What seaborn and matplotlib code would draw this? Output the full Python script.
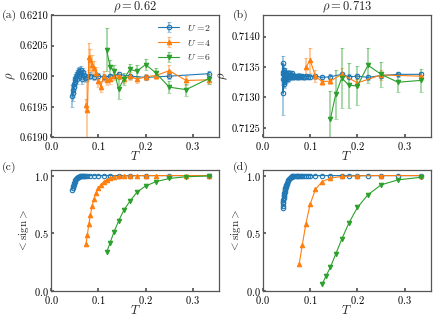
import matplotlib
matplotlib.use("Agg")
import matplotlib.pyplot as plt
import seaborn as sns
import numpy as np
import pandas as pd

# ---- data: rho = 0.62 ----
T_a_u2 = [0.0444, 0.0455, 0.0465, 0.0476, 0.0488, 0.05, 0.0513, 0.0526, 0.0541, 0.0556,
          0.0571, 0.0588, 0.0606, 0.0625, 0.0645, 0.0667, 0.069, 0.0714, 0.0769, 0.0833,
          0.0909, 0.1, 0.1111, 0.125, 0.1429, 0.1667, 0.2, 0.25, 0.3333]
rho_a_u2 = [0.61967, 0.61972, 0.61977, 0.61983, 0.61988, 0.61991, 0.61995, 0.61998, 0.62002, 0.61996,
            0.62005, 0.62008, 0.62003, 0.62010, 0.61995, 0.62007, 0.62002, 0.61997, 0.61998, 0.62001,
            0.61999, 0.62000, 0.61999, 0.62000, 0.62003, 0.62000, 0.61998, 0.62000, 0.62004]
err_a_u2 = [0.00018, 0.00013, 0.00011, 0.0001, 0.0001, 0.00009, 0.00009, 0.00008, 0.00008, 0.00008,
            0.00008, 0.00007, 0.00007, 0.00007, 0.00007, 0.00006, 0.00006, 0.00006, 0.00006, 0.00005,
            0.00005, 0.00005, 0.00005, 0.00004, 0.00004, 0.00004, 0.00004, 0.00004, 0.00004]
sign_c_u2 = [0.878, 0.893, 0.906, 0.921, 0.935, 0.946, 0.958, 0.967, 0.976, 0.983,
             0.988, 0.992, 0.995, 0.997, 0.998, 0.999, 0.999, 1.0, 1.0, 1.0,
             1.0, 1.0, 1.0, 1.0, 1.0, 1.0, 1.0, 1.0, 1.0]

T_a_u4 = [0.0741, 0.0769, 0.08, 0.0833, 0.087, 0.0909, 0.0952, 0.1, 0.1053, 0.1111, 0.1176,
          0.125, 0.1333, 0.1429, 0.1538, 0.1667, 0.1818, 0.2, 0.2222, 0.25, 0.2857, 0.3333]
rho_a_u4 = [0.61953, 0.61944, 0.62032, 0.62027, 0.62019, 0.62013, 0.62005, 0.61992, 0.61983, 0.62000, 0.61993,
            0.61995, 0.62000, 0.62001, 0.61995, 0.62000, 0.61995, 0.61999, 0.62001, 0.62009, 0.61993, 0.61994]
err_a_u4 = [0.0001, 0.0005, 0.00022, 0.00018, 0.00015, 0.00012, 0.0001, 0.0001, 0.00009, 0.00008, 0.00008,
            0.00007, 0.00007, 0.00006, 0.00006, 0.00006, 0.00006, 0.00005, 0.00005, 0.0001, 0.00007, 0.00007]
sign_c_u4 = [0.41, 0.49, 0.58, 0.66, 0.74, 0.80, 0.85, 0.89, 0.92, 0.945, 0.963,
             0.977, 0.987, 0.993, 0.996, 0.998, 0.999, 1.0, 1.0, 1.0, 1.0, 1.0]

T_a_u6 = [0.1176, 0.125, 0.1333, 0.1429, 0.1538, 0.1667, 0.1818, 0.2, 0.2222, 0.25, 0.2857, 0.3333]
rho_a_u6 = [0.62043, 0.62015, 0.62009, 0.61979, 0.61995, 0.62011, 0.62008, 0.62019, 0.62005, 0.61982, 0.61978, 0.61996]
err_a_u6 = [0.00035, 0.00012, 0.0001, 0.00016, 0.0001, 0.00009, 0.0001, 0.00009, 0.00008, 0.0001, 0.0001, 0.00008]
sign_c_u6 = [0.337, 0.42, 0.515, 0.607, 0.70, 0.778, 0.857, 0.91, 0.948, 0.975, 0.99, 0.997]

# ---- data: rho = 0.713 ----
T_b_u2 = [0.0417, 0.0421, 0.0426, 0.0430, 0.0435, 0.0440, 0.0444, 0.0449, 0.0455, 0.0460,
          0.0465, 0.0471, 0.0476, 0.0482, 0.0488, 0.0494, 0.0500, 0.0513, 0.0526, 0.0541,
          0.0556, 0.0571, 0.0588, 0.0606, 0.0625, 0.0645, 0.0667, 0.0690, 0.0714, 0.0741,
          0.0769, 0.0800, 0.0833, 0.0870, 0.0909, 0.0952, 0.1000, 0.1111, 0.1250, 0.1429,
          0.1667, 0.1818, 0.2000, 0.2222, 0.2500, 0.2857, 0.3333]
rho_b_u2 = [0.71342, 0.71356, 0.71307, 0.71338, 0.71330, 0.71345, 0.71325, 0.71340, 0.71322, 0.71336,
            0.71330, 0.71342, 0.71328, 0.71335, 0.71338, 0.71330, 0.71334, 0.71338, 0.71330, 0.71336,
            0.71340, 0.71333, 0.71337, 0.71335, 0.71340, 0.71333, 0.71336, 0.71334, 0.71335, 0.71333,
            0.71336, 0.71334, 0.71335, 0.71333, 0.71335, 0.71334, 0.71334, 0.71335, 0.71333, 0.71334,
            0.71338, 0.71334, 0.71335, 0.71333, 0.71336, 0.71338, 0.71338]
err_b_u2 = [0.00013, 0.00012, 0.00035, 0.0001, 0.00009, 0.00008, 0.00008, 0.00008, 0.00007, 0.00007,
            0.00007, 0.00006, 0.00006, 0.00006, 0.00006, 0.00006, 0.00005, 0.00005, 0.00005, 0.00005,
            0.00005, 0.00005, 0.00005, 0.00005, 0.00004, 0.00004, 0.00004, 0.00004, 0.00004, 0.00004,
            0.00004, 0.00004, 0.00004, 0.00004, 0.00004, 0.00004, 0.00004, 0.00004, 0.00004, 0.00004,
            0.00004, 0.00004, 0.00004, 0.00004, 0.00004, 0.00004, 0.00004]
sign_d_u2 = [0.72, 0.74, 0.76, 0.775, 0.79, 0.805, 0.82, 0.835, 0.85, 0.862,
             0.873, 0.884, 0.893, 0.902, 0.91, 0.918, 0.925, 0.94, 0.952, 0.962,
             0.971, 0.978, 0.984, 0.989, 0.993, 0.995, 0.997, 0.998, 0.999, 1.0,
             1.0, 1.0, 1.0, 1.0, 1.0, 1.0, 1.0, 1.0, 1.0, 1.0,
             1.0, 1.0, 1.0, 1.0, 1.0, 1.0, 1.0]

T_b_u4 = [0.0909, 0.1, 0.1111, 0.125, 0.1429, 0.1667, 0.2, 0.25, 0.3333]
rho_b_u4 = [0.71350, 0.71361, 0.71335, 0.71326, 0.71327, 0.71338, 0.71324, 0.71337, 0.71335]
err_b_u4 = [0.00015, 0.0002, 0.0001, 0.00005, 0.00005, 0.0001, 0.00007, 0.00008, 0.00007]
T_d_u4 = [0.0769, 0.0833, 0.0909, 0.1, 0.1111, 0.125, 0.1429, 0.1667, 0.2, 0.25, 0.3333]
sign_d_u4 = [0.24, 0.40, 0.585, 0.755, 0.88, 0.948, 0.978, 0.993, 0.998, 1.0, 1.0]

T_b_u6 = [0.1429, 0.1538, 0.1667, 0.1818, 0.2, 0.2222, 0.25, 0.2857, 0.3333]
rho_b_u6 = [0.71265, 0.71305, 0.71332, 0.71320, 0.71319, 0.71353, 0.71338, 0.71325, 0.71328]
err_b_u6 = [0.00045, 0.0004, 0.0005, 0.00037, 0.00032, 0.00029, 0.00021, 0.00016, 0.00019]
T_d_u6 = [0.125, 0.1333, 0.1429, 0.1538, 0.1667, 0.1818, 0.2, 0.2222, 0.25, 0.2857, 0.3333]
sign_d_u6 = [0.06, 0.13, 0.21, 0.32, 0.45, 0.59, 0.725, 0.835, 0.92, 0.963, 0.985]

colors = sns.color_palette("tab10")[:3]
markers = ["o", "^", "v"]
labels = [r"$U$ =2", r"$U$ =4", r"$U$ =6"]

sns.set_theme(style="ticks")
plt.rcParams.update({
    "font.family": "serif",
    "font.serif": ["cmr10"],
    "mathtext.fontset": "cm",
    "axes.formatter.use_mathtext": True,
    "axes.unicode_minus": False,
    "font.size": 7.5,
    "xtick.direction": "in",
    "ytick.direction": "in",
    "xtick.major.size": 2.5,
    "ytick.major.size": 2.5,
    "axes.edgecolor": "#555555",
    "axes.linewidth": 0.9,
})

fig = plt.figure(figsize=(4.36, 3.18), dpi=100)
w = 0.385
ax_a = fig.add_axes([0.117, 0.568, w, 0.385])
ax_b = fig.add_axes([0.603, 0.568, w, 0.385])
ax_c = fig.add_axes([0.117, 0.084, w, 0.382])
ax_d = fig.add_axes([0.603, 0.084, w, 0.382])


def rho_panel(ax, series):
    for (T, y, e), c, m, lab in zip(series, colors, markers, labels):
        mfc = "none" if m == "o" else c
        ax.errorbar(T, y, yerr=e, color=c, marker=m, ms=3.2, mfc=mfc, mew=0.8,
                    lw=0.8, elinewidth=1.4, ecolor=(*c, 0.4), capsize=1.5,
                    capthick=0.8, label=lab)


def sign_panel(ax, series):
    for (T, s), c, m in zip(series, colors, markers):
        df = pd.DataFrame({"T": T, "sign": s})
        mfc = "none" if m == "o" else c
        sns.lineplot(data=df, x="T", y="sign", ax=ax, color=c, marker=m,
                     markersize=3.2, markerfacecolor=mfc, markeredgecolor=c,
                     markeredgewidth=0.8, lw=0.8, sort=False)


rho_panel(ax_a, [(T_a_u2, rho_a_u2, err_a_u2), (T_a_u4, rho_a_u4, err_a_u4),
                 (T_a_u6, rho_a_u6, err_a_u6)])
rho_panel(ax_b, [(T_b_u2, rho_b_u2, err_b_u2), (T_b_u4, rho_b_u4, err_b_u4),
                 (T_b_u6, rho_b_u6, err_b_u6)])
sign_panel(ax_c, [(T_a_u2, sign_c_u2), (T_a_u4, sign_c_u4), (T_a_u6, sign_c_u6)])
sign_panel(ax_d, [(T_b_u2, sign_d_u2), (T_d_u4, sign_d_u4), (T_d_u6, sign_d_u6)])

ax_a.set_ylim(0.6190, 0.6210)
ax_a.set_yticks([0.6190, 0.6195, 0.6200, 0.6205, 0.6210])
ax_a.yaxis.set_major_formatter(matplotlib.ticker.FormatStrFormatter("%.4f"))
ax_b.set_ylim(0.712345, 0.714355)
ax_b.set_yticks([0.7125, 0.7130, 0.7135, 0.7140])
ax_b.yaxis.set_major_formatter(matplotlib.ticker.FormatStrFormatter("%.4f"))
ax_a.set_title(r"$\rho = 0.62$", fontsize=9, pad=3)
ax_b.set_title(r"$\rho = 0.713$", fontsize=9, pad=3)

for ax in (ax_c, ax_d):
    ax.set_ylim(0, 1.05)
    ax.set_yticks([0.0, 0.5, 1.0])
    ax.set_ylabel(r"$<\mathrm{sign}>$", fontsize=8, labelpad=2)

for ax in (ax_a, ax_b):
    ax.set_ylabel(r"$\rho$", fontsize=9, labelpad=1)

for ax in (ax_a, ax_b, ax_c, ax_d):
    ax.set_xlim(0, 0.355)
    ax.set_xticks([0.0, 0.1, 0.2, 0.3])
    ax.set_xlabel(r"$T$", fontsize=9, labelpad=-1.0)
    ax.tick_params(labelsize=7.5, pad=1.8, colors="#555555", labelcolor="black")

ax_a.legend(loc="upper right", frameon=False, fontsize=7, handlelength=2.2,
            borderaxespad=0.4, labelspacing=0.5)

fig.text(0.005, 0.97, "(a)", fontsize=8.5, va="top")
fig.text(0.533, 0.97, "(b)", fontsize=8.5, va="top")
fig.text(0.005, 0.49, "(c)", fontsize=8.5, va="top")
fig.text(0.533, 0.49, "(d)", fontsize=8.5, va="top")

fig.savefig("out.png", dpi=100)
